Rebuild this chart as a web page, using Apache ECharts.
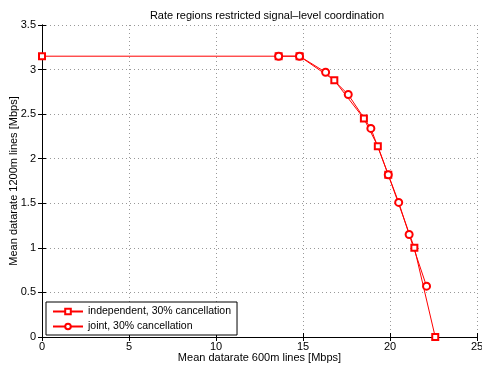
<!DOCTYPE html>
<html>
<head>
<meta charset="utf-8">
<script src="https://cdn.jsdelivr.net/npm/echarts@6/dist/echarts.min.js"></script>
<style>html,body{margin:0;padding:0;background:#fff}#chart{width:482px;height:367px}</style>
</head>
<body>
<div id="chart"></div>
<script>
// values: [rate 600m, rate 1200m]
var independentPts = [[0, 3.15], [13.6, 3.15], [14.8, 3.15], [16.8, 2.88], [18.5, 2.45], [19.3, 2.14], [19.9, 1.82], [21.4, 1.0], [22.6, 0]];
var jointPts = [[13.6, 3.15], [14.8, 3.15], [16.3, 2.97], [17.6, 2.72], [18.9, 2.34], [19.9, 1.82], [20.5, 1.51], [21.1, 1.15], [22.1, 0.57]];
var seriesNames = ['independent, 30% cancellation', 'joint, 30% cancellation'];

var font = 'Liberation Sans, Arial, sans-serif';
var chart = echarts.init(document.getElementById('chart'));

var dotted = {show: true, lineStyle: {color: '#999', type: [1, 3], width: 1}};
function box(pos, isX) {
	// frame axes on top/right, ticks inward, no labels
	return {
		type: 'value', position: pos, min: 0, max: isX ? 25 : 3.5, interval: isX ? 5 : 0.5,
		axisLine: {show: true, lineStyle: {color: '#000'}},
		axisTick: {show: true, inside: true, length: 4, lineStyle: {color: '#000'}},
		axisLabel: {show: false}, splitLine: {show: false}
	};
}

var option = {
	animation: false,
	backgroundColor: '#fff',
	title: {
		text: 'Rate regions restricted signal\u2013level coordination',
		left: 262, top: 5, textAlign: 'center',
		textStyle: {fontFamily: font, fontSize: 11, fontWeight: 'normal', color: '#000'}
	},
	legend: {
		left: 46, top: 302, orient: 'vertical',
		data: seriesNames,
		itemWidth: 30, itemHeight: 7, itemGap: 4,
		padding: [4, 6, 3, 6],
		borderColor: '#000', borderWidth: 1, backgroundColor: '#fff',
		textStyle: {fontFamily: font, fontSize: 10.5, color: '#000'}
	},
	grid: {left: 42, right: 5, top: 25, bottom: 30, outerBoundsMode: 'none'},
	xAxis: [{
		type: 'value', min: 0, max: 25, interval: 5,
		name: 'Mean datarate 600m lines [Mbps]', nameLocation: 'middle', nameGap: 15,
		nameMoveOverlap: false,
		nameTextStyle: {fontFamily: font, fontSize: 11, color: '#000'},
		axisLine: {lineStyle: {color: '#000'}},
		axisTick: {inside: true, length: 4, lineStyle: {color: '#000'}},
		axisLabel: {fontFamily: font, fontSize: 11, color: '#000', margin: 4},
		splitLine: dotted
	}, box('top', true)],
	yAxis: [{
		type: 'value', min: 0, max: 3.5, interval: 0.5,
		name: 'Mean datarate 1200m lines [Mbps]', nameLocation: 'middle', nameGap: 23,
		nameMoveOverlap: false,
		nameTextStyle: {fontFamily: font, fontSize: 11, color: '#000'},
		axisLine: {show: true, lineStyle: {color: '#000'}},
		axisTick: {show: true, inside: true, length: 4, lineStyle: {color: '#000'}},
		axisLabel: {fontFamily: font, fontSize: 11, color: '#000', margin: 6},
		splitLine: dotted
	}, box('right', false)],
	series: [{
		name: seriesNames[0], type: 'line', data: independentPts,
		symbol: 'emptyRect', symbolSize: 6, color: '#ff0000',
		lineStyle: {width: 1, color: '#ff0000'}, itemStyle: {borderWidth: 1}
	}, {
		name: seriesNames[1], type: 'line', data: jointPts,
		symbol: 'emptyCircle', symbolSize: 7, color: '#ff0000',
		lineStyle: {width: 1, color: '#ff0000'}, itemStyle: {borderWidth: 1}
	}]
};
chart.setOption(option);
</script>
</body>
</html>
